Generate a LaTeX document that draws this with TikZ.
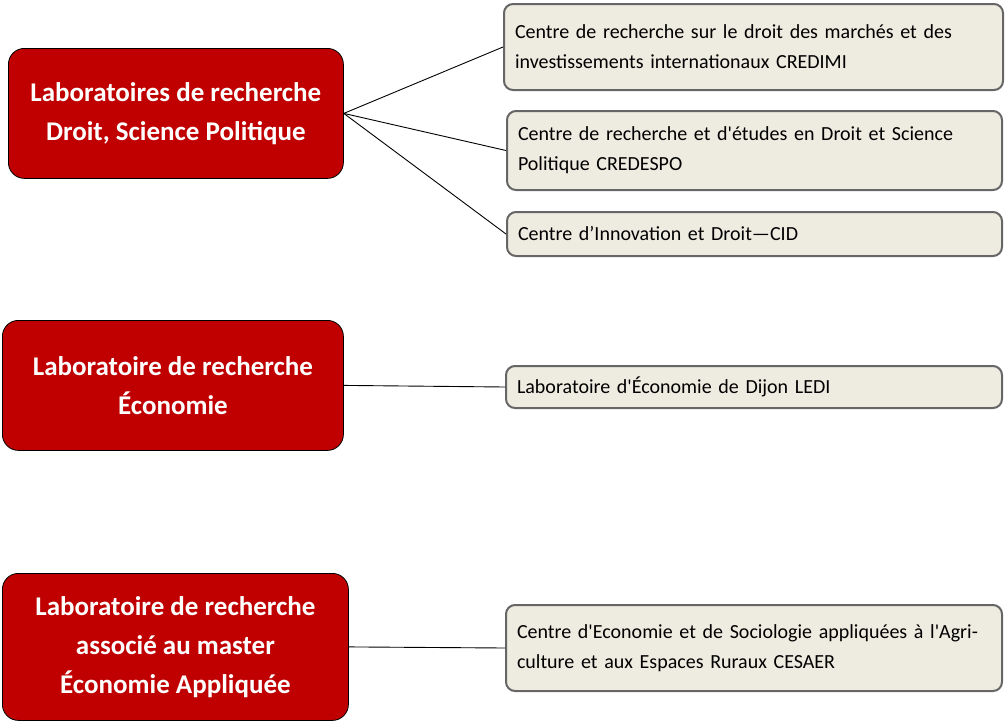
\documentclass[tikz,border=0pt]{standalone}
\usepackage{fontspec}
\setmainfont{Carlito}[Ligatures=TeXOff]
\usepackage{xcolor}
\usepackage{tikz}
\definecolor{labred}{HTML}{C00000}
\definecolor{unitbeige}{HTML}{EEEBE0}
\definecolor{unitgray}{HTML}{666666}

\begin{document}
\begin{tikzpicture}[x=1pt,y=-1pt,
    lab/.style={draw=black,fill=labred,rounded corners=16pt,line width=0.8pt,
        text=white,font=\fontsize{27}{39}\selectfont\bfseries,align=center,
        anchor=north west,inner sep=0pt},
    unit/.style={draw=unitgray,fill=unitbeige,rounded corners=9pt,line width=2pt,
        font=\fontsize{20}{30}\selectfont,align=left,anchor=north west,
        inner xsep=11pt,inner ysep=0pt},
    link/.style={draw=black,line width=0.9pt}]
    \useasboundingbox (0,0) rectangle (1005,724);
    % laboratoires
    \node[lab,minimum width=335pt,minimum height=130pt] (droit) at (8,48)
        {Laboratoires de recherche\\Droit, Science Politique};
    \node[lab,minimum width=341pt,minimum height=130pt] (eco) at (2,320)
        {Laboratoire de recherche\\Économie};
    \node[lab,minimum width=346pt,minimum height=147pt] (ecoapp) at (2,573)
        {Laboratoire de recherche\\associé au master\\Économie Appliquée};
    % centres
    \node[unit,minimum height=86pt,text width=477pt] (credimi) at (503,3)
        {Centre de recherche sur le droit des marchés et des\\investissements internationaux CREDIMI};
    \node[unit,minimum height=79pt,text width=473pt] (credespo) at (506,110)
        {Centre de recherche et d'études en Droit et Science\\Politique CREDESPO};
    \node[unit,minimum height=44pt,text width=473pt] (cid) at (506,211)
        {Centre d’Innovation et Droit—CID};
    \node[unit,minimum height=42pt,text width=474pt] (ledi) at (505,365)
        {Laboratoire d'Économie de Dijon LEDI};
    \node[unit,minimum height=86pt,text width=474pt] (cesaer) at (505,604)
        {Centre d'Economie et de Sociologie appliquées à l'Agri-\\culture et aux Espaces Ruraux CESAER};
    % liens
    \draw[link] (droit.east) -- (credimi.west);
    \draw[link] (droit.east) -- (credespo.west);
    \draw[link] (droit.east) -- (cid.west);
    \draw[link] (eco.east) -- (ledi.west);
    \draw[link] (ecoapp.east) -- (cesaer.west);
\end{tikzpicture}
\end{document}
